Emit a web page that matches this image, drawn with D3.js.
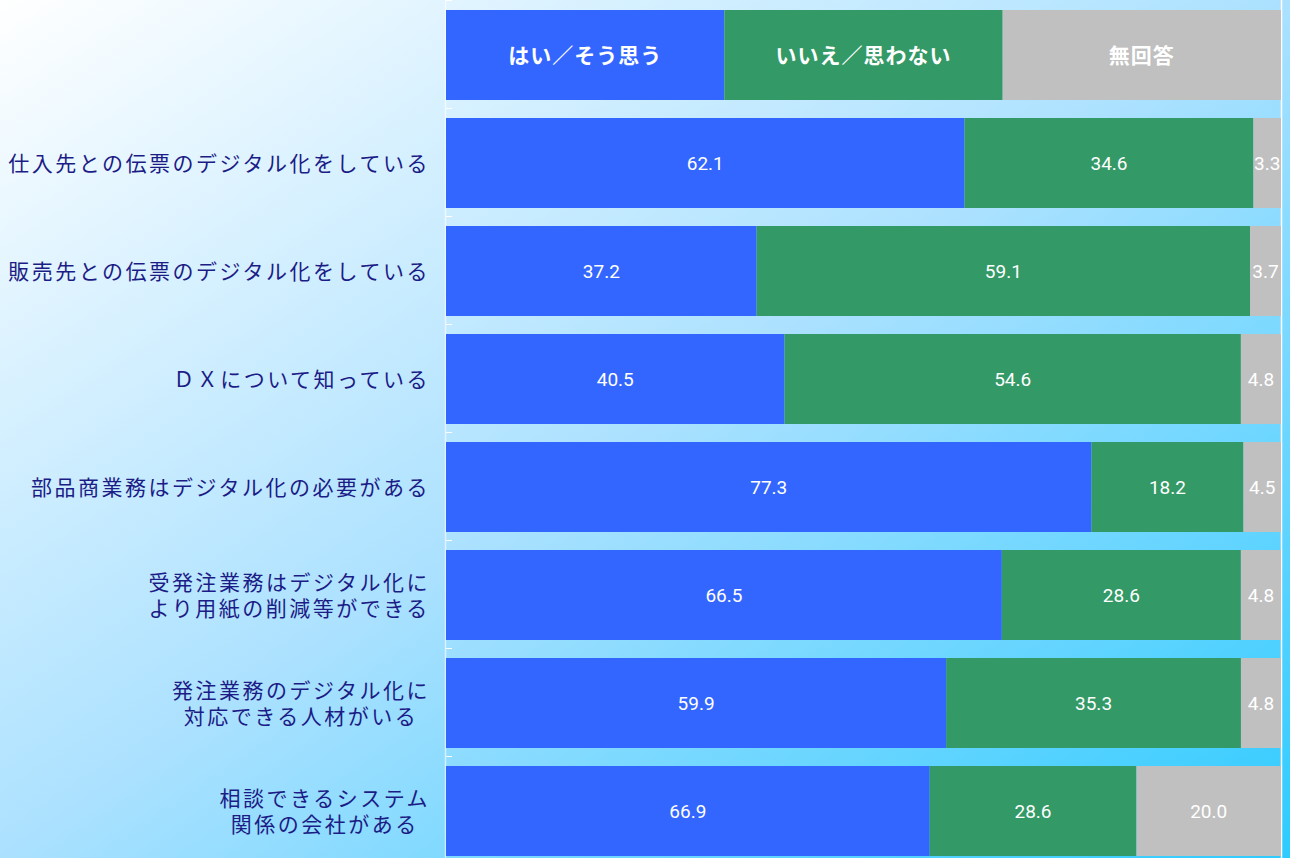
<!DOCTYPE html>
<meta charset="utf-8">
<style type="text/css">
body { margin: 0; overflow: hidden; }
svg { display: block; }
.cat { font-family: 'Noto Sans CJK JP', sans-serif; font-size: 21px; fill: #1c1c86; letter-spacing: 2.5px; }
.val { font-family: Roboto, sans-serif; font-size: 19px; fill: #ffffff; }
.hed { font-family: 'Noto Sans CJK JP', sans-serif; font-size: 21px; font-weight: bold; fill: #ffffff; letter-spacing: 1px; }
</style>
<body>
<div class="g-chart"></div>
<script src="https://cdnjs.cloudflare.com/ajax/libs/d3/7.8.5/d3.min.js"></script>
<script type="text/javascript">

// chart data
var categories = [
  "仕入先との伝票のデジタル化をしている",
  "販売先との伝票のデジタル化をしている",
  "ＤＸについて知っている",
  "部品商業務はデジタル化の必要がある",
  "受発注業務はデジタル化に\nより用紙の削減等ができる",
  "発注業務のデジタル化に\n対応できる人材がいる",
  "相談できるシステム\n関係の会社がある"
];
var seriesNames = ["はい／そう思う", "いいえ／思わない", "無回答"];
var yesValues = [62.1, 37.2, 40.5, 77.3, 66.5, 59.9, 66.9];
var noValues  = [34.6, 59.1, 54.6, 18.2, 28.6, 35.3, 28.6];
var naValues  = [3.3, 3.7, 4.8, 4.5, 4.8, 4.8, 20.0];
var colors = ["#3366ff", "#339966", "#c0c0c0"];

var width = 1290, height = 858;

var svg = d3.select(".g-chart").append("svg")
  .attr("width", width)
  .attr("height", height);

// background gradient
var grad = svg.append("defs").append("linearGradient")
  .attr("id", "bg")
  .attr("x1", 0).attr("y1", 0).attr("x2", 1).attr("y2", 1);
grad.append("stop").attr("offset", "0%").attr("stop-color", "#ffffff");
grad.append("stop").attr("offset", "50%").attr("stop-color", "#abe1ff");
grad.append("stop").attr("offset", "100%").attr("stop-color", "#2ecbff");
svg.append("rect").attr("width", width).attr("height", height).attr("fill", "url(#bg)");

// rows: header (legend) first, then the categories
var rows = [{key: "header", vals: [1, 1, 1]}];
categories.forEach(function(c, i) {
  rows.push({key: c, vals: [yesValues[i], noValues[i], naValues[i]]});
});

var y = d3.scaleBand()
  .domain(rows.map(function(d) { return d.key; }))
  .range([1, 865])
  .paddingInner(1 / 6)
  .paddingOuter(1 / 12);

var x = d3.scaleLinear().domain([0, 1]).range([446, 1281]);

// axis lines
svg.append("line")
  .attr("x1", 1281.5).attr("x2", 1281.5).attr("y1", 0).attr("y2", height)
  .style("stroke", "#ffffff").style("stroke-width", 1.5);
svg.append("line")
  .attr("x1", 445.5).attr("x2", 445.5).attr("y1", 0).attr("y2", height)
  .style("stroke", "#ffffff").style("stroke-opacity", 0.6).style("stroke-width", 1.5);

var bounds = d3.range(rows.length + 1).map(function(i) { return y.range()[0] + i * y.step(); });
svg.selectAll("line.tick")
  .data(bounds)
  .enter().append("line")
  .attr("class", "tick")
  .attr("x1", 446).attr("x2", 452)
  .attr("y1", function(d) { return d - 0.5; })
  .attr("y2", function(d) { return d - 0.5; })
  .style("stroke", "#ffffff");

// segments
var row = svg.selectAll("g.row")
  .data(rows)
  .enter().append("g")
  .attr("class", "row")
  .attr("transform", function(d) { return "translate(0," + y(d.key) + ")"; });

row.each(function(d, ri) {
  var total = d3.sum(d.vals);
  var acc = 0;
  var segs = d.vals.map(function(v, i) {
    var s = {x0: acc / total, x1: (acc + v) / total, v: v, i: i};
    acc += v;
    return s;
  });
  var g = d3.select(this);
  g.selectAll("rect")
    .data(segs)
    .enter().append("rect")
    .attr("x", function(s) { return x(s.x0); })
    .attr("width", function(s) { return x(s.x1) - x(s.x0); })
    .attr("height", y.bandwidth())
    .attr("fill", function(s) { return colors[s.i]; });
  g.selectAll("text")
    .data(segs)
    .enter().append("text")
    .attr("class", ri === 0 ? "hed" : "val")
    .attr("x", function(s) { return (x(s.x0) + x(s.x1)) / 2; })
    .attr("y", y.bandwidth() / 2)
    .attr("dy", "0.36em")
    .attr("text-anchor", "middle")
    .text(function(s) { return ri === 0 ? seriesNames[s.i] : s.v.toFixed(1); });
});

// category labels, multi-line ones centred on each other
categories.forEach(function(c) {
  var lines = c.split("\n");
  var cy = y(c) + y.bandwidth() / 2;
  var texts = lines.map(function(l, i) {
    return svg.append("text")
      .attr("class", "cat")
      .attr("text-anchor", "middle")
      .attr("y", cy + (i - (lines.length - 1) / 2) * 26)
      .attr("dy", "0.36em")
      .text(l);
  });
  var maxW = d3.max(texts, function(t) { return t.node().getComputedTextLength(); });
  texts.forEach(function(t) { t.attr("x", 430 - maxW / 2); });
});

</script>
</body>
